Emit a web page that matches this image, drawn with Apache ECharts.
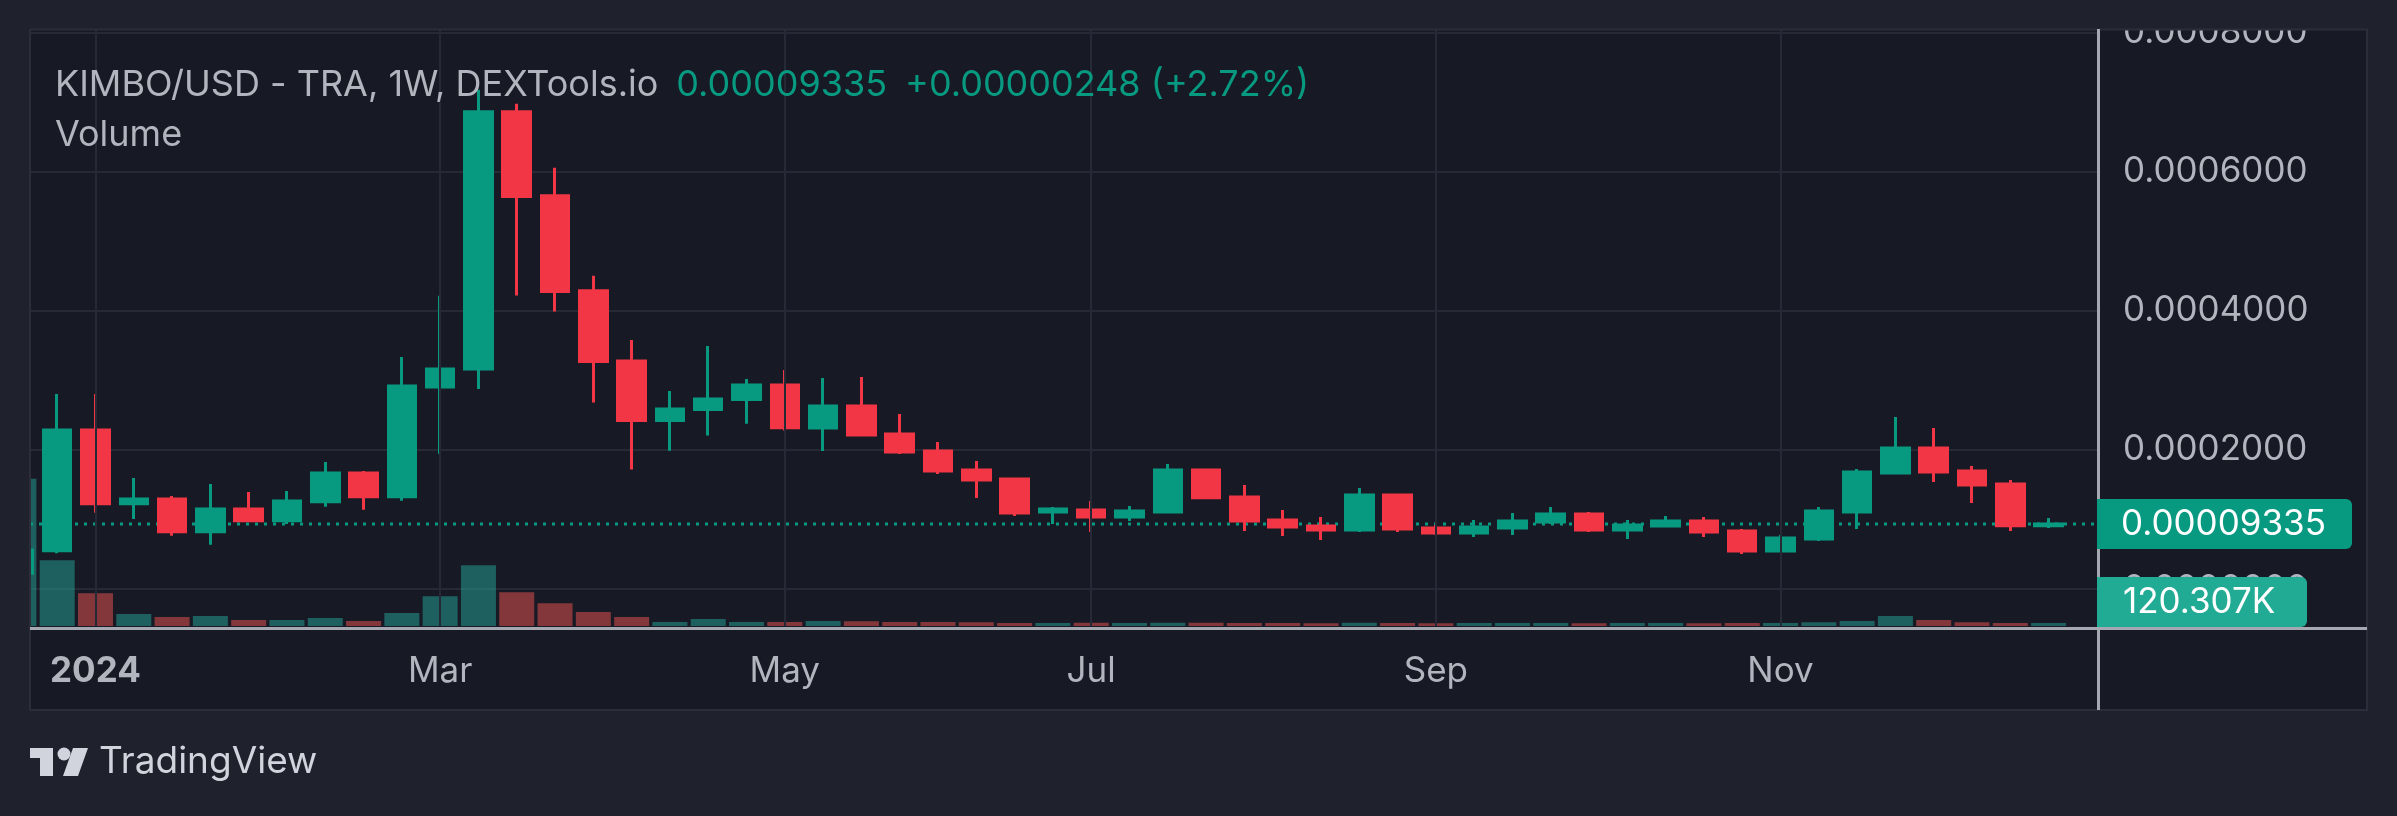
<!DOCTYPE html>
<html>
<head>
<meta charset="utf-8">
<script src="https://cdn.jsdelivr.net/npm/echarts@6/dist/echarts.min.js"></script>
<style>
html,body{margin:0;padding:0;background:#1f222d;}
#c{width:2397px;height:816px;}
</style>
</head>
<body>
<div id="c"></div>
<script>
// ---- data (weekly candles, KIMBO/USD) ----
const weeks = [
 '2023-12-18','2023-12-25','2024-01-01','2024-01-08','2024-01-15','2024-01-22','2024-01-29',
 '2024-02-05','2024-02-12','2024-02-19','2024-02-26','2024-03-04','2024-03-11','2024-03-18',
 '2024-03-25','2024-04-01','2024-04-08','2024-04-15','2024-04-22','2024-04-29','2024-05-06',
 '2024-05-13','2024-05-20','2024-05-27','2024-06-03','2024-06-10','2024-06-17','2024-06-24',
 '2024-07-01','2024-07-08','2024-07-15','2024-07-22','2024-07-29','2024-08-05','2024-08-12',
 '2024-08-19','2024-08-26','2024-09-02','2024-09-09','2024-09-16','2024-09-23','2024-09-30',
 '2024-10-07','2024-10-14','2024-10-21','2024-10-28','2024-11-04','2024-11-11','2024-11-18',
 '2024-11-25','2024-12-02','2024-12-09','2024-12-16','2024-12-23'
];
const openP = [
 0.0000226,0.0000551,0.0002288,0.0001227,0.0001295,0.0000824,0.0001151,
 0.0000983,0.0001256,0.0001669,0.0001328,0.0002906,0.0003165,0.0006863,
 0.0005655,0.0004288,0.0003281,0.0002422,0.0002580,0.0002724,0.0002935,
 0.0002317,0.0002633,0.0002230,0.0001986,0.0001712,0.0001583,0.0001108,
 0.0001137,0.0001036,0.0001108,0.0001712,0.0001324,0.0000993,0.0000906,
 0.0000849,0.0001353,0.0000878,0.0000806,0.0000878,0.0000964,0.0001079,
 0.0000849,0.0000906,0.0000978,0.0000835,0.0000547,0.0000719,0.0001108,
 0.0001669,0.0002029,0.0001698,0.0001511,0.000090874
];
const closeP = [
 0.0000561,0.0002288,0.0001227,0.0001295,0.0000824,0.0001151,0.0000983,
 0.0001266,0.0001669,0.0001328,0.0002921,0.0003165,0.0006863,0.0005645,
 0.0004278,0.0003271,0.0002422,0.0002590,0.0002734,0.0002935,0.0002321,
 0.0002633,0.0002216,0.0001971,0.0001698,0.0001568,0.0001094,0.0001151,
 0.0001036,0.0001122,0.0001712,0.0001314,0.0000978,0.0000892,0.0000849,
 0.0001353,0.0000863,0.0000806,0.0000892,0.0000978,0.0001079,0.0000849,
 0.0000921,0.0000978,0.0000820,0.0000547,0.0000734,0.0001122,0.0001683,
 0.0002029,0.0001683,0.0001496,0.000090874,0.00009335
];
const lowP = [
 0.0000200,0.0000514,0.0001098,0.0001007,0.0000767,0.0000637,0.0000964,
 0.0000935,0.0001184,0.0001141,0.0001271,0.0001942,0.0002878,0.0004220,
 0.0003990,0.0002681,0.0001717,0.0001990,0.0002206,0.0002378,0.0002278,
 0.0001986,0.0002201,0.0001942,0.0001655,0.0001309,0.0001050,0.0000935,
 0.0000820,0.0000978,0.0001108,0.0001314,0.0000835,0.0000763,0.0000705,
 0.0000820,0.0000820,0.0000777,0.0000748,0.0000777,0.0000935,0.0000820,
 0.0000719,0.0000892,0.0000748,0.0000504,0.0000532,0.0000691,0.0000863,
 0.0001655,0.0001540,0.0001237,0.0000835,0.0000878
];
const highP = [
 0.0000750,0.0002806,0.0002806,0.0001597,0.0001338,0.0001511,0.0001396,
 0.0001410,0.0001827,0.0001698,0.0003338,0.0004216,0.0007180,0.0006978,
 0.0006058,0.0004504,0.0003583,0.0002849,0.0003496,0.0003022,0.0003151,
 0.0003036,0.0003050,0.0002518,0.0002115,0.0001842,0.0001583,0.0001180,
 0.0001266,0.0001194,0.0001799,0.0001727,0.0001496,0.0001137,0.0001036,
 0.0001453,0.0001353,0.0000921,0.0000993,0.0001094,0.0001180,0.0001108,
 0.0000993,0.0001050,0.0001036,0.0000863,0.0000777,0.0001180,0.0001727,
 0.0002475,0.0002317,0.0001770,0.0001568,0.0001022
];
const volume = [
 5930000,2650000,1320000,480000,360000,400000,240000,
 240000,320000,200000,520000,1200000,2450000,1360000,
 920000,560000,360000,160000,280000,160000,165000,
 200000,195000,160000,158000,155000,125000,118000,
 130000,122000,135000,128000,120000,116000,112000,
 126000,121000,114000,119000,117000,124000,113000,
 118000,120000,111000,122000,119000,150000,200000,
 400000,240000,155000,125000,120307
];
const monthTickDates  = ['2024-01-01','2024-03-04','2024-05-06','2024-07-01','2024-09-02','2024-11-04'];
const monthTickLabels = ['2024','Mar','May','Jul','Sep','Nov'];
const priceTicks = [0, 0.0002, 0.0004, 0.0006, 0.0008];

// ---- styling ----
const UP = '#089981', DOWN = '#f23645';
const VOL_UP = 'rgba(38,166,154,0.5)', VOL_DOWN = 'rgba(239,83,80,0.5)';
const GRID = '#262a36', TXT = '#b2b5be', FONT = 'Inter';
const OUTER = '#1f222d', PANEL = '#171a25';

const n = weeks.length;
const last = n - 1;
const tickPos = monthTickDates.map(d => weeks.indexOf(d));
const candleData = weeks.map((d, i) => [i, openP[i], closeP[i], lowP[i], highP[i]]);
const volData = weeks.map((d, i) => ({
  value: [i, volume[i]],
  itemStyle: { color: closeP[i] >= openP[i] ? VOL_UP : VOL_DOWN }
}));
const lastClose = closeP[last];
const chg = closeP[last] - closeP[last - 1];
const pct = chg / closeP[last - 1] * 100;
const sign = chg >= 0 ? '+' : '-';

const xMin = 0.29, xMax = 54.29;

const chart = echarts.init(document.getElementById('c'), null, { renderer: 'canvas' });
const option = {
  backgroundColor: OUTER,
  animation: false,
  title: [
    {
      left: 55, top: 67, padding: 0,
      text: '{a|KIMBO/USD - TRA, 1W, DEXTools.io}{b|' + lastClose.toFixed(8) + '}{b|' + sign +
            Math.abs(chg).toFixed(8) + ' (' + sign + Math.abs(pct).toFixed(2) + '%)}',
      textStyle: { rich: {
        a: { color: TXT, fontSize: 36, fontFamily: FONT, fontWeight: 'normal' },
        b: { color: UP, fontSize: 36, fontFamily: FONT, fontWeight: 'normal', padding: [0, 0, 0, 18] }
      } }
    },
    {
      left: 55, top: 117, padding: 0, text: 'Volume',
      textStyle: { color: TXT, fontSize: 36, fontFamily: FONT, fontWeight: 'normal' }
    }
  ],
  grid: [
    { left: 30, right: 299, top: 30, height: 559 },
    { left: 30, right: 299, top: 30, height: 596 }
  ],
  xAxis: [
    { type: 'value', gridIndex: 0, min: xMin, max: xMax, show: false },
    {
      type: 'value', gridIndex: 1, min: xMin, max: xMax,
      axisLine: { show: false }, axisTick: { show: false, customValues: tickPos },
      splitLine: { show: false },
      axisLabel: {
        customValues: tickPos, margin: 28, color: TXT, fontSize: 35, fontFamily: FONT,
        formatter: v => {
          const k = tickPos.indexOf(v);
          if (k < 0) return '';
          return /^\d{4}$/.test(monthTickLabels[k]) ? '{y|' + monthTickLabels[k] + '}' : monthTickLabels[k];
        },
        rich: { y: { color: TXT, fontSize: 35, fontFamily: FONT, fontWeight: 'bold' } }
      }
    }
  ],
  yAxis: [
    {
      type: 'value', gridIndex: 0, position: 'right', min: 0, max: 0.000804, interval: 0.0002,
      axisLine: { show: false }, axisTick: { show: false },
      splitLine: { show: true, showMaxLine: false, lineStyle: { color: GRID, width: 2 } },
      axisLabel: {
        showMaxLabel: false, margin: 25, color: TXT, fontSize: 35, fontFamily: FONT,
        formatter: v => priceTicks.some(t => Math.abs(t - v) < 1e-12) ? v.toFixed(7) : ''
      }
    },
    { type: 'value', gridIndex: 1, min: 0, max: 24000000, show: false }
  ],
  series: [
    {
      type: 'bar', name: 'Volume', xAxisIndex: 1, yAxisIndex: 1, data: volData,
      barWidth: 35, z: 1, clip: true,
      markLine: {
        silent: true, symbol: ['none', 'none'], label: { show: false },
        lineStyle: { color: GRID, width: 2, type: 'solid' },
        data: tickPos.map(p => ({ xAxis: p }))
      }
    },
    {
      type: 'line', name: 'last price', xAxisIndex: 0, yAxisIndex: 0,
      data: [[xMin, lastClose], [xMax, lastClose]],
      symbol: 'none', silent: true, z: 2,
      lineStyle: { color: UP, width: 3, type: [3, 6] }
    },
    {
      type: 'candlestick', name: 'KIMBO/USD', xAxisIndex: 0, yAxisIndex: 0,
      data: candleData, encode: { x: 0, y: [1, 2, 3, 4] },
      barWidth: 28, z: 3, clip: true,
      itemStyle: { color: UP, color0: DOWN, borderColor: UP, borderColor0: DOWN, borderWidth: 3 }
    }
  ]
};
chart.setOption(option);

// value labels on the price scale, placed through the axes' own scales
const pricePt = chart.convertToPixel({ xAxisIndex: 0, yAxisIndex: 0 }, [last, lastClose]);
const volPt = chart.convertToPixel({ xAxisIndex: 1, yAxisIndex: 1 }, [last, volume[last]]);
const paneBottom = 627;
const pY = pricePt[1];
const vY = Math.min(volPt[1], paneBottom - 25);
const axisX = 2097;

const graphic = [
  { type: 'rect', z: -10, silent: true, shape: { x: 30, y: 29, width: 2337, height: 681 },
    style: { fill: PANEL } },
  // outer margins cover (clips overflow at pane edges)
  { type: 'rect', z: 50, silent: true, shape: { x: 0, y: 0, width: 2397, height: 29 },
    style: { fill: OUTER } },
  { type: 'rect', z: 50, silent: true, shape: { x: 0, y: 0, width: 29.5, height: 816 },
    style: { fill: OUTER } },
  { type: 'rect', z: 51, silent: true, shape: { x: 30, y: 29.5, width: 2337, height: 680.5 },
    style: { fill: null, stroke: '#2b2e3a', lineWidth: 2 } },
  { type: 'line', z: 52, silent: true, shape: { x1: 2098.5, y1: 29, x2: 2098.5, y2: 710 },
    style: { stroke: '#a5a8b0', lineWidth: 3 } },
  { type: 'line', z: 52, silent: true, shape: { x1: 30, y1: 628.5, x2: 2367, y2: 628.5 },
    style: { stroke: '#a5a8b0', lineWidth: 3 } },
  // TradingView logo
  { type: 'polygon', z: 60, silent: true,
    shape: { points: [[30,748],[53,748],[53,776],[40,776],[40,758],[30,758]] }, style: { fill: '#d1d4dc' } },
  { type: 'circle', z: 60, silent: true, shape: { cx: 64, cy: 754, r: 6.5 }, style: { fill: '#d1d4dc' } },
  { type: 'polygon', z: 60, silent: true,
    shape: { points: [[73,748],[88,748],[78,776],[63,776]] }, style: { fill: '#d1d4dc' } },
  { type: 'text', z: 60, silent: true, x: 99, y: 762,
    style: { text: 'TradingView', fill: '#d1d4dc', font: '37px Inter', verticalAlign: 'middle', align: 'left' } },
  // last price label
  { type: 'rect', z: 70, silent: true, shape: { x: axisX, y: pY - 25, width: 255, height: 50, r: [0, 6, 6, 0] },
    style: { fill: UP } },
  { type: 'text', z: 71, silent: true, x: axisX + 24, y: pY,
    style: { text: lastClose.toFixed(8), fill: '#ffffff', font: '35px Inter', verticalAlign: 'middle', align: 'left' } },
  // last volume label
  { type: 'rect', z: 70, silent: true, shape: { x: axisX, y: vY - 25, width: 210, height: 50, r: [0, 6, 6, 0] },
    style: { fill: '#22ab94' } },
  { type: 'text', z: 71, silent: true, x: axisX + 26, y: vY,
    style: { text: (volume[last] / 1000).toFixed(3) + 'K', fill: '#ffffff', font: '35px Inter', verticalAlign: 'middle', align: 'left' } }
];
chart.setOption({ graphic: graphic });
</script>
</body>
</html>
